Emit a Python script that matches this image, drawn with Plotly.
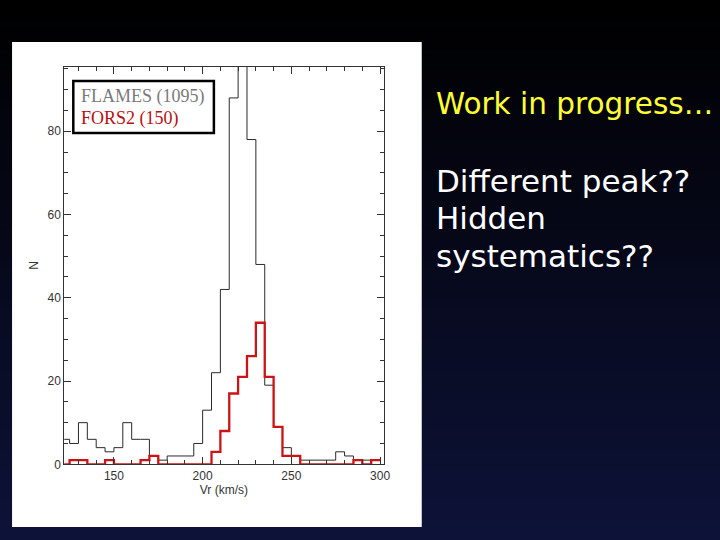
import plotly.graph_objects as go

# histogram bins (left edges, km/s), bin width 5
bin_left = [120, 125, 130, 135, 140, 145, 150, 155, 160, 165,
            170, 175, 180, 185, 190, 195, 200, 205, 210, 215,
            220, 225, 230, 235, 240, 245, 250, 255, 260, 265,
            270, 275, 280, 285, 290, 295]
bin_width = 5

# FLAMES counts (the 220-225 bin is clipped by the axis)
flames_n = [6, 5, 10, 6, 4, 3, 4, 10, 6, 6,
            2, 1, 2, 2, 2, 5, 13, 22, 42, 88,
            115, 78, 48, 19, 9, 4, 2, 1, 1, 1,
            1, 3, 2, 1, 1, 1]
# FORS2 counts
fors2_n = [0, 1, 1, 0, 0, 1, 0, 0, 0, 1,
           2, 0, 0, 0, 0, 0, 0, 3, 8, 17,
           21, 26, 34, 21, 9, 2, 2, 0, 0, 0,
           0, 0, 0, 1, 0, 1]

x_ticks = [150, 200, 250, 300]
y_ticks = [0, 20, 40, 60, 80]

# the page comes out slightly shrunk, so draw a bit larger than 720x540
W, H = 730, 547


def px_x(p):
    return p / 720


def px_y(p):
    return 1 - p / 540


def steps(counts):
    xs = list(bin_left) + [bin_left[-1] + bin_width]
    ys = list(counts) + [counts[-1]]
    return xs, ys


fig = go.Figure()

fx, fy = steps(flames_n)
fig.add_trace(go.Scatter(x=fx, y=fy, mode="lines", line_shape="hv",
                         line=dict(color="#2a2a2a", width=1), name="FLAMES (1095)"))
rx, ry = steps(fors2_n)
fig.add_trace(go.Scatter(x=rx, y=ry, mode="lines", line_shape="hv",
                         line=dict(color="#cc1414", width=2.3), name="FORS2 (150)"))

shapes = []
# dark slide background, black at top fading to navy
n_band = 54
c0 = (0, 0, 0)
c1 = (13, 18, 56)
for i in range(n_band):
    t = i / (n_band - 1)
    col = tuple(int(round(a + (b - a) * t)) for a, b in zip(c0, c1))
    shapes.append(dict(type="rect", xref="paper", yref="paper", layer="below",
                       x0=0, x1=1, y0=1 - (i + 1) / n_band, y1=1 - i / n_band,
                       fillcolor="rgb(%d,%d,%d)" % col, line=dict(width=0)))
# white panel behind the figure
shapes.append(dict(type="rect", xref="paper", yref="paper", layer="below",
                   x0=px_x(12), x1=px_x(420), y0=px_y(527), y1=px_y(42),
                   fillcolor="white", line=dict(width=0)))
# legend box
shapes.append(dict(type="rect", xref="paper", yref="paper",
                   x0=px_x(73), x1=px_x(213), y0=px_y(133), y1=px_y(81),
                   fillcolor="white", line=dict(color="black", width=2.5)))

side_lines = ["Different peak??", "Hidden", "systematics??"]
side_y = [181, 218, 256]

annotations = [
    dict(text="FLAMES (1095)", x=px_x(79), y=px_y(97), xref="paper", yref="paper",
         xanchor="left", yanchor="middle", showarrow=False,
         font=dict(family="Liberation Serif", size=18, color="#7a7a7a")),
    dict(text="FORS2 (150)", x=px_x(79), y=px_y(118.5), xref="paper", yref="paper",
         xanchor="left", yanchor="middle", showarrow=False,
         font=dict(family="Liberation Serif", size=18, color="#b80f0f")),
    dict(text="Work in progress…", x=px_x(432), y=px_y(104), xref="paper", yref="paper",
         xanchor="left", yanchor="middle", showarrow=False,
         font=dict(family="DejaVu Sans", size=29.5, color="#ffff33")),
]
for line, yy in zip(side_lines, side_y):
    annotations.append(dict(text=line, x=px_x(432), y=px_y(yy), xref="paper", yref="paper",
                            xanchor="left", yanchor="middle", showarrow=False,
                            font=dict(family="DejaVu Sans", size=31, color="white")))

axis_font = dict(family="Liberation Sans", size=12, color="#333333")

fig.update_layout(
    width=W, height=H,
    margin=dict(l=0, r=0, t=0, b=0),
    paper_bgcolor="black",
    plot_bgcolor="white",
    showlegend=False,
    shapes=shapes,
    annotations=annotations,
    xaxis=dict(domain=[px_x(64), px_x(382)], range=[122, 302],
               tickvals=x_ticks, ticks="inside", ticklen=7, tickcolor="#333333",
               minor=dict(dtick=10, tick0=0, ticks="inside", ticklen=4, tickcolor="#333333"),
               showline=True, linecolor="#333333", linewidth=1, mirror="ticks",
               showgrid=False, zeroline=False, tickfont=axis_font,
               title=dict(text="Vr (km/s)", font=axis_font, standoff=2)),
    yaxis=dict(domain=[px_y(464.3), px_y(66.7)], range=[0, 95.5],
               tickvals=y_ticks, ticks="inside", ticklen=7, tickcolor="#333333",
               minor=dict(dtick=5, tick0=0, ticks="inside", ticklen=4, tickcolor="#333333"),
               showline=True, linecolor="#333333", linewidth=1, mirror="ticks",
               showgrid=False, zeroline=False, tickfont=axis_font,
               title=dict(text="N", font=axis_font, standoff=6)),
)

page_fix = (
    "document.documentElement.style.margin='0px';"
    "document.documentElement.style.overflow='hidden';"
    "document.body.style.margin='0px';"
    "document.body.style.overflow='hidden';"
)
fig.write_html("out.html", post_script=page_fix,
               config={"displayModeBar": False})
